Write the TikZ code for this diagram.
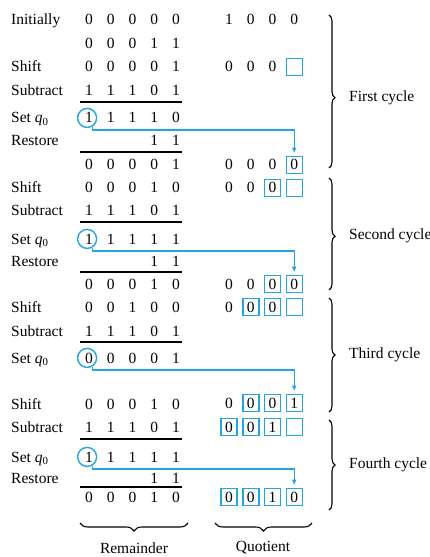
\documentclass[tikz,border=0pt]{standalone}
\usepackage{fontspec}
\setmainfont{Liberation Serif}
\usetikzlibrary{arrows.meta,decorations.pathreplacing}
\definecolor{qblue}{RGB}{35,165,225}
\newcommand\setq{Set \textit{q}\textsubscript{0}}
\tikzset{dig/.style={inner sep=0pt, anchor=base, font=\fontsize{15.5bp}{18bp}\selectfont},
         lbl/.style={dig, anchor=base west},
         qbox/.style={dig, draw=qblue, line width=1.4bp,
         minimum width=16bp, minimum height=17bp},
         qring/.style={circle, draw=qblue, line width=1.4bp,
         minimum size=19bp, inner sep=0pt},
         qlink/.style={qblue, line width=1.3bp, shorten >=3bp,
         -{Triangle[length=5bp,width=4bp]}},
         cyc/.style={decorate, decoration={brace, amplitude=#1}, line width=1.1bp},
         cyc/.default={6bp}}

\begin{document}
\begin{tikzpicture}[x=1bp, y=-1bp]
  \fill[white] (0,0) rectangle (429,557);
  \useasboundingbox (0,0) rectangle (429,557);

  % remainder register
  \foreach \y/\ds [count=\r] in {20/{0,0,0,0,0}, 44/{0,0,0,1,1}, 67/{0,0,0,0,1},
      91/{1,1,1,0,1}, 118/{1,1,1,1,0}, 141/{{},{},{},1,1}, 165/{0,0,0,0,1},
      188/{0,0,0,1,0}, 211/{1,1,1,0,1}, 239/{1,1,1,1,1}, 261/{{},{},{},1,1},
      284/{0,0,0,1,0}, 307/{0,0,1,0,0}, 331/{1,1,1,0,1}, 358/{0,0,0,0,1},
      404/{0,0,0,1,0}, 427/{1,1,1,0,1}, 457/{1,1,1,1,1}, 478/{{},{},{},1,1},
      497/{0,0,0,1,0}}
    \foreach \d [count=\c] in \ds
      \node[dig] (r\r-\c) at ({67.4+21.7*\c},\y+5) {\vphantom{0}\d};

  % quotient register
  \foreach \y/\ds [count=\r] in {20/{1/dig,0/dig,0/dig,0/dig},
      67/{0/dig,0/dig,0/dig,/qbox}, 165/{0/dig,0/dig,0/dig,0/qbox},
      188/{0/dig,0/dig,0/qbox,/qbox}, 284/{0/dig,0/dig,0/qbox,0/qbox},
      307/{0/dig,0/qbox,0/qbox,/qbox}, 403/{0/dig,0/qbox,0/qbox,1/qbox},
      427/{0/qbox,0/qbox,1/qbox,/qbox}, 497/{0/qbox,0/qbox,1/qbox,0/qbox}}
    \foreach \d/\s [count=\c] in \ds
      \node[\s] (q\r-\c) at ({207.4+21.7*\c},\y+5) {\vphantom{0}\d};

  \foreach \y/\t in {20/Initially, 67/Shift, 91/Subtract, 118/\setq, 141/Restore,
      188/Shift, 211/Subtract, 239/\setq, 261/Restore, 307/Shift, 331/Subtract,
      358/\setq, 404/Shift, 427/Subtract, 457/\setq, 478/Restore}
    \node[lbl] at (11,\y+5) {\t};

  \foreach \y in {102,152,222,272,342,439,487}
    \draw[line width=1.3bp] (80,\y) -- (182,\y);

  % q0 bits
  \foreach \r/\q [count=\k] in {5/3, 10/5, 15/7, 18/9} {
    \node[qring] (c\k) at ([xshift=-2bp]r\r-1.center) {};
    \coordinate (k\k) at ([yshift=-2bp]c\k.south);
    \draw[qlink] (c\k.-60) |- (q\q-4.north |- k\k) -- (q\q-4.north);
  }

  \foreach \a/\b/\t/\asp in {15/168/First cycle/0.54, 178/290/Second cycle/0.52,
      298/412/Third cycle/0.5, 420/510/Fourth cycle/0.5} {
    \draw[cyc, decoration={aspect=\asp}] (329,\a) -- (329,\b);
    \pgfmathsetmacro\tip{\a+\asp*(\b-\a)}
    \node[lbl, anchor=west] at (349,\tip) {\t};
  }

  \draw[cyc=8bp] (188,523) -- (80,523);
  \draw[cyc=8bp] (312,523) -- (215,523);
  \node[lbl, anchor=center] at (134,548) {Remainder};
  \node[lbl, anchor=center] at (263,548) {Quotient};
\end{tikzpicture}
\end{document}
